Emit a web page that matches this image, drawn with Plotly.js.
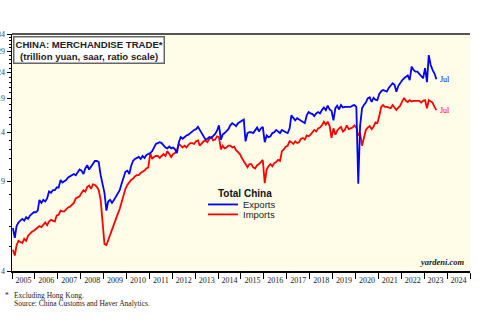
<!DOCTYPE html>
<html>
<head>
<meta charset="utf-8">
<script src="https://cdn.plot.ly/plotly-3.0.1.min.js"></script>
<style>
html,body{margin:0;padding:0;background:#fff;}
#chart{width:500px;height:331px;}
</style>
</head>
<body>
<div id="chart"></div>
<script>
// ---- Data (trillion yuan, saar), monthly from Jan 2005 to Jul 2023 ----
var startYear = 2005;
var exportsByYear = [
  [5.9, 5.4, 6.0, 6.2, 6.3, 6.4, 6.3, 6.5, 6.4, 6.6, 6.7, 6.8],      // 2005
  [6.8, 6.9, 7.6, 7.4, 7.6, 7.5, 7.7, 8.2, 8.1, 8.3, 8.3, 8.5],      // 2006
  [8.5, 9.1, 8.9, 9.0, 9.1, 9.3, 9.4, 9.5, 9.6, 9.5, 9.8, 10.0],     // 2007
  [9.9, 9.6, 10.1, 10.4, 10.0, 10.3, 10.6, 10.8, 10.8, 10.7, 9.5, 8.9], // 2008
  [8.1, 6.9, 7.5, 7.6, 7.4, 7.6, 7.8, 8.0, 8.3, 8.8, 9.3, 9.8],      // 2009
  [9.9, 9.6, 10.3, 10.8, 11.0, 11.1, 11.2, 11.0, 11.3, 11.1, 11.4, 11.5], // 2010
  [11.6, 11.8, 12.2, 12.6, 12.7, 12.8, 12.7, 12.4, 12.2, 12.1, 12.3, 12.1], // 2011
  [12.2, 12.0, 11.6, 12.8, 13.4, 13.2, 13.4, 13.6, 13.7, 13.9, 14.0, 14.3], // 2012
  [14.4, 14.7, 14.3, 13.9, 13.4, 13.1, 13.2, 13.4, 13.3, 13.5, 13.8, 14.2], // 2013
  [14.9, 13.1, 13.7, 13.9, 14.2, 14.4, 14.9, 15.2, 15.0, 14.8, 15.2, 15.4], // 2014
  [15.5, 15.7, 12.9, 13.9, 14.0, 14.0, 13.9, 14.3, 14.6, 14.1, 14.5, 14.7], // 2015
  [12.8, 13.6, 13.4, 13.5, 13.9, 14.0, 14.3, 14.1, 13.9, 14.3, 14.1, 14.0], // 2016
  [13.9, 14.5, 16.3, 15.9, 15.6, 15.9, 15.7, 15.5, 15.4, 15.2, 16.3, 16.8], // 2017
  [16.6, 16.5, 16.2, 16.6, 16.8, 16.6, 17.1, 17.5, 17.1, 17.8, 17.2, 17.0], // 2018
  [15.6, 17.4, 17.8, 17.2, 17.9, 17.5, 17.6, 17.6, 17.7, 17.6, 17.8, 17.9], // 2019
  [17.6, 8.8, 14.8, 17.4, 17.9, 18.3, 19.0, 19.2, 18.4, 19.1, 18.8, 18.7], // 2020
  [19.8, 20.3, 20.5, 20.4, 20.2, 20.9, 21.4, 21.8, 21.5, 20.2, 21.3, 21.9], // 2021
  [22.4, 22.8, 23.1, 23.4, 22.4, 25.3, 24.6, 24.2, 24.2, 23.8, 23.4, 22.8], // 2022
  [25.0, 22.0, 28.1, 25.7, 24.6, 23.8, 22.6]                             // 2023 (to Jul)
];
var importsByYear = [
  [4.85, 4.6, 5.05, 5.25, 5.2, 5.15, 5.35, 5.25, 5.5, 5.6, 5.7, 5.75], // 2005
  [5.85, 5.95, 6.0, 5.95, 6.1, 6.2, 6.05, 6.25, 6.35, 6.3, 6.25, 6.6],  // 2006
  [6.65, 6.9, 6.85, 6.85, 7.0, 7.1, 7.15, 7.3, 7.4, 7.7, 7.8, 7.85],    // 2007
  [8.1, 8.3, 8.2, 8.55, 8.65, 8.4, 8.75, 8.7, 8.55, 8.3, 7.6, 6.0],     // 2008
  [5.1, 5.06, 5.3, 5.5, 5.8, 6.1, 6.4, 6.7, 7.0, 7.5, 8.0, 8.4],        // 2009
  [8.7, 8.9, 9.1, 9.2, 9.4, 9.5, 9.5, 9.7, 9.8, 9.9, 10.1, 10.2],       // 2010
  [11.6, 11.0, 11.2, 11.3, 11.3, 11.1, 11.3, 11.5, 11.3, 11.8, 11.5, 11.2], // 2011
  [11.5, 11.6, 11.9, 12.6, 12.4, 12.2, 12.4, 12.2, 12.5, 12.7, 12.7, 12.6], // 2012
  [12.9, 13.0, 12.4, 12.7, 12.9, 13.0, 12.8, 13.2, 13.4, 13.0, 13.1, 13.5], // 2013
  [13.4, 12.0, 12.4, 12.1, 12.2, 12.4, 12.4, 12.2, 12.3, 11.9, 11.7, 11.5], // 2014
  [11.1, 10.8, 10.5, 10.2, 10.5, 10.5, 10.2, 10.1, 10.4, 10.5, 10.7, 10.9], // 2015
  [8.85, 10.0, 10.3, 10.5, 10.3, 10.6, 10.7, 10.9, 10.8, 11.8, 12.0, 12.3], // 2016
  [12.4, 12.9, 12.8, 12.6, 12.9, 12.7, 12.8, 13.2, 13.3, 13.1, 13.6, 13.5], // 2017
  [13.7, 14.0, 14.3, 14.1, 14.5, 14.6, 14.9, 15.4, 15.0, 15.4, 14.8, 13.3], // 2018
  [14.5, 13.7, 14.2, 14.5, 14.7, 14.1, 14.3, 14.9, 14.4, 14.5, 14.6, 14.9], // 2019
  [14.6, 13.6, 13.9, 12.4, 13.3, 14.3, 14.6, 14.8, 14.4, 14.7, 15.3, 15.2], // 2020
  [16.2, 17.6, 17.9, 17.6, 17.6, 17.5, 17.4, 17.9, 17.5, 17.1, 17.5, 17.8], // 2021
  [18.5, 19.1, 18.6, 18.4, 18.7, 18.5, 18.6, 18.6, 18.5, 18.6, 18.3, 18.6], // 2022
  [18.7, 17.4, 18.7, 18.5, 18.3, 17.6, 17.1]                               // 2023 (to Jul)
];
var yTickVals = [4, 9, 14, 19, 24, 29, 34];
var yMinorVals = [5,6,7,8,10,11,12,13,15,16,17,18,20,21,22,23,25,26,27,28,30,31,32,33];
var lastLabel = 'Jul';

// ---- Build series ----
function flatten(a){ return [].concat.apply([], a); }
function datesFor(byYear){
  var d = [];
  byYear.forEach(function(row, i){
    row.forEach(function(v, m){
      var mm = (m + 1 < 10 ? '0' : '') + (m + 1);
      d.push((startYear + i) + '-' + mm + '-15');
    });
  });
  return d;
}
var exportsVals = flatten(exportsByYear), importsVals = flatten(importsByYear);
var exportsDates = datesFor(exportsByYear), importsDates = datesFor(importsByYear);

var serif = 'Liberation Serif, Times New Roman, serif';
var sans = 'Liberation Sans, Arial, sans-serif';

var traces = [
  {x: importsDates, y: importsVals, type: 'scatter', mode: 'lines', name: 'Imports',
   line: {color: '#ff0000', width: 1.8}, legend: 'legend2', hoverinfo: 'skip'},
  {x: exportsDates, y: exportsVals, type: 'scatter', mode: 'lines', name: 'Exports',
   line: {color: '#0000ff', width: 1.8}, legend: 'legend', hoverinfo: 'skip'}
];

var yRange = [Math.log10(4), Math.log10(34)];
function yAxis(side){
  return {
    type: 'log', range: yRange, side: side,
    tickmode: 'array', tickvals: yTickVals, ticktext: yTickVals.map(String),
    ticks: 'outside', ticklen: 4, tickwidth: 1, tickcolor: '#000',
    showline: true, linecolor: '#000', linewidth: 1.5,
    showgrid: false, zeroline: false,
    tickfont: {family: serif, size: 8, color: '#444'},
    minor: {tickmode: 'array', tickvals: yMinorVals, ticks: 'outside', ticklen: 2, tickcolor: '#000', tickwidth: 1, showgrid: false},
    fixedrange: true
  };
}
var y2 = yAxis('right'); y2.overlaying = 'y'; y2.anchor = 'x';

var legendFont = {family: sans, size: 9.5, color: '#222'};
var layout = {
  width: 500, height: 331,
  margin: {l: 12, r: 30, t: 34, b: 60},
  paper_bgcolor: '#ffffff',
  plot_bgcolor: '#fffde7',
  showlegend: true,
  xaxis: {
    type: 'date', range: ['2005-01-01', '2025-01-01'],
    tick0: '2005-01-01', dtick: 'M12', tickformat: '%Y', ticklabelmode: 'period',
    ticks: 'outside', ticklen: 6, tickwidth: 1, tickcolor: '#000',
    ticklabelstandoff: -5,
    showline: true, linecolor: '#000', linewidth: 1.5,
    showgrid: false, zeroline: false,
    tickfont: {family: serif, size: 8, color: '#222'},
    fixedrange: true
  },
  yaxis: yAxis('left'),
  yaxis2: y2,
  legend: {
    x: 0.417, y: 0.342, xanchor: 'left', yanchor: 'top',
    bgcolor: 'rgba(0,0,0,0)', borderwidth: 0, font: legendFont
  },
  legend2: {
    x: 0.417, y: 0.300, xanchor: 'left', yanchor: 'top',
    bgcolor: 'rgba(0,0,0,0)', borderwidth: 0, font: legendFont
  },
  shapes: [
    {type: 'line', xref: 'paper', yref: 'paper', x0: 0, x1: 1, y0: 1, y1: 1,
     line: {color: '#555', width: 2}}
  ],
  annotations: [
    {xref: 'paper', yref: 'paper', x: 0.002, y: 0.99, xanchor: 'left', yanchor: 'top',
     text: '<b>CHINA: MERCHANDISE TRADE*</b><br><b>(trillion yuan, saar, ratio scale)</b>',
     showarrow: false, align: 'center', bgcolor: '#ffffff', bordercolor: '#666',
     borderwidth: 1.5, borderpad: 1, font: {family: sans, size: 9.6, color: '#222'}},
    {xref: 'paper', yref: 'paper', x: (216 - 12) / 458, y: (271 - 193) / 237,
     xanchor: 'left', yanchor: 'middle', showarrow: false,
     text: '<b>Total China</b>', font: {family: sans, size: 10, color: '#111'}},
    {x: exportsDates[exportsDates.length - 1], y: Math.log10(exportsVals[exportsVals.length - 1]),
     xref: 'x', yref: 'y', xanchor: 'left', yanchor: 'middle', xshift: 2, showarrow: false,
     text: lastLabel, font: {family: serif, size: 8, color: '#0000ff'}},
    {x: importsDates[importsDates.length - 1], y: Math.log10(importsVals[importsVals.length - 1]),
     xref: 'x', yref: 'y', xanchor: 'left', yanchor: 'middle', xshift: 2, showarrow: false,
     text: lastLabel, font: {family: serif, size: 8, color: '#ff0000'}},
    {xref: 'paper', yref: 'paper', x: 0.993, y: 0.01, xanchor: 'right', yanchor: 'bottom',
     text: '<b><i>yardeni.com</i></b>', showarrow: false,
     font: {family: serif, size: 8.5, color: '#222'}},
    {xref: 'paper', yref: 'paper', x: -0.019, y: -0.103, xanchor: 'left', yanchor: 'middle',
     text: '*', showarrow: false, font: {family: serif, size: 7.5, color: '#222'}},
    {xref: 'paper', yref: 'paper', x: 0, y: -0.105, xanchor: 'left', yanchor: 'middle',
     text: 'Excluding Hong Kong.', showarrow: false, font: {family: serif, size: 7.5, color: '#222'}},
    {xref: 'paper', yref: 'paper', x: 0, y: -0.138, xanchor: 'left', yanchor: 'middle',
     text: 'Source: China Customs and Haver Analytics.', showarrow: false,
     font: {family: serif, size: 7.5, color: '#222'}}
  ]
};

Plotly.newPlot('chart', traces, layout, {staticPlot: true, displayModeBar: false});
</script>
</body>
</html>
